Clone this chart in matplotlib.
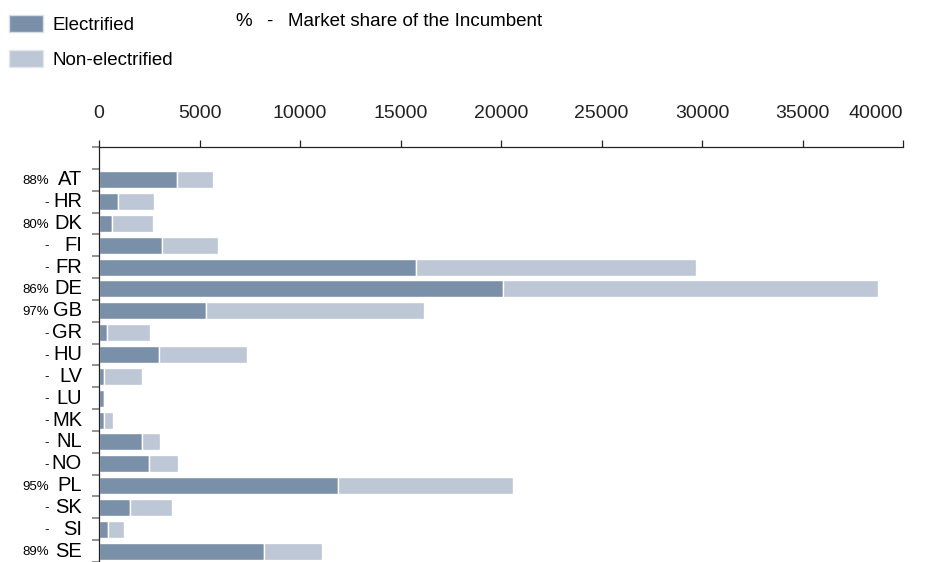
import matplotlib.pyplot as plt
import numpy as np
from matplotlib.patches import Patch

### DATA ###
countries = ["AT", "HR", "DK", "FI", "FR", "DE", "GB", "GR", "HU",
             "LV", "LU", "MK", "NL", "NO", "PL", "SK", "SI", "SE"]
share = ["88%", "-", "80%", "-", "-", "86%", "97%", "-", "-",
         "-", "-", "-", "-", "-", "95%", "-", "-", "89%"]
electrified = [3880, 950, 650, 3130, 15750, 20080, 5340, 400, 2980,
               250, 250, 250, 2130, 2480, 11880, 1530, 450, 8210]
non_electrified = [1790, 1790, 2040, 2800, 13950, 18680, 10820, 2140, 4370,
                   1890, 0, 450, 890, 1450, 8700, 2090, 790, 2890]
x_ticks = [0, 5000, 10000, 15000, 20000, 25000, 30000, 35000, 40000]

### STYLE ###
C_ELEC = "#7a8fa8"
C_NON = "#bec7d5"
plt.rcParams['font.family'] = ['Liberation Sans', 'DejaVu Sans']

fig = plt.figure(figsize=(9.26, 5.62), dpi=100)
ax = fig.add_axes([99/926, 0.0, (903-99)/926, (562-147)/562])

y = np.arange(len(countries))
elec = np.array(electrified)
non = np.array(non_electrified)
ax.barh(y, elec, height=0.78, color=C_ELEC, edgecolor="white", linewidth=1.0)
ax.barh(y, non, left=elec, height=0.78, color=C_NON, edgecolor="white", linewidth=1.0)

ax.set_xlim(0, 40000)
ax.set_ylim(len(countries) - 0.5, -1.5)

# x axis on top
ax.xaxis.tick_top()
ax.set_xticks(x_ticks)
ax.set_xticklabels([str(v) for v in x_ticks], fontsize=14)
ax.tick_params(axis="x", direction="out", length=5, width=0.9, pad=13, colors="#222222")
ax.get_xticklabels()[-1].set_horizontalalignment("right")

# y ticks at the category boundaries, labels drawn as text
ax.set_yticks(np.arange(-1.5, len(countries), 1.0))
ax.set_yticklabels([])
ax.tick_params(axis="y", direction="out", length=5, width=1.2, colors="#7f7f7f")

for sp in ["right", "bottom"]:
    ax.spines[sp].set_visible(False)
for sp in ["top", "left"]:
    ax.spines[sp].set_linewidth(0.9)
    ax.spines[sp].set_color("#222222")

trans = ax.get_yaxis_transform()
for i, (c, s) in enumerate(zip(countries, share)):
    ax.text(-17/804, i, c, transform=trans, ha="right", va="center", fontsize=14.5)
    ax.text(-50/804, i + 0.05, s, transform=trans, ha="right", va="center", fontsize=9.5)

# legend
handles = [Patch(facecolor=C_ELEC, edgecolor="#d8dee8", label="Electrified"),
           Patch(facecolor=C_NON, edgecolor="#e2e6ee", label="Non-electrified")]
fig.legend(handles=handles, loc="upper left", bbox_to_anchor=(-0.006, 1.0),
           frameon=False, fontsize=13.5, handlelength=1.8, handleheight=1.0,
           handletextpad=0.5, labelspacing=0.85, borderaxespad=0.4)
fig.text(235/926, 1 - 21/562, "%", ha="left", va="center", fontsize=13.5)
fig.text(266/926, 1 - 21/562, "-", ha="left", va="center", fontsize=13.5)
fig.text(288/926, 1 - 21/562, "Market share of the Incumbent",
         ha="left", va="center", fontsize=13.5)

fig.savefig("out.png", dpi=100)
